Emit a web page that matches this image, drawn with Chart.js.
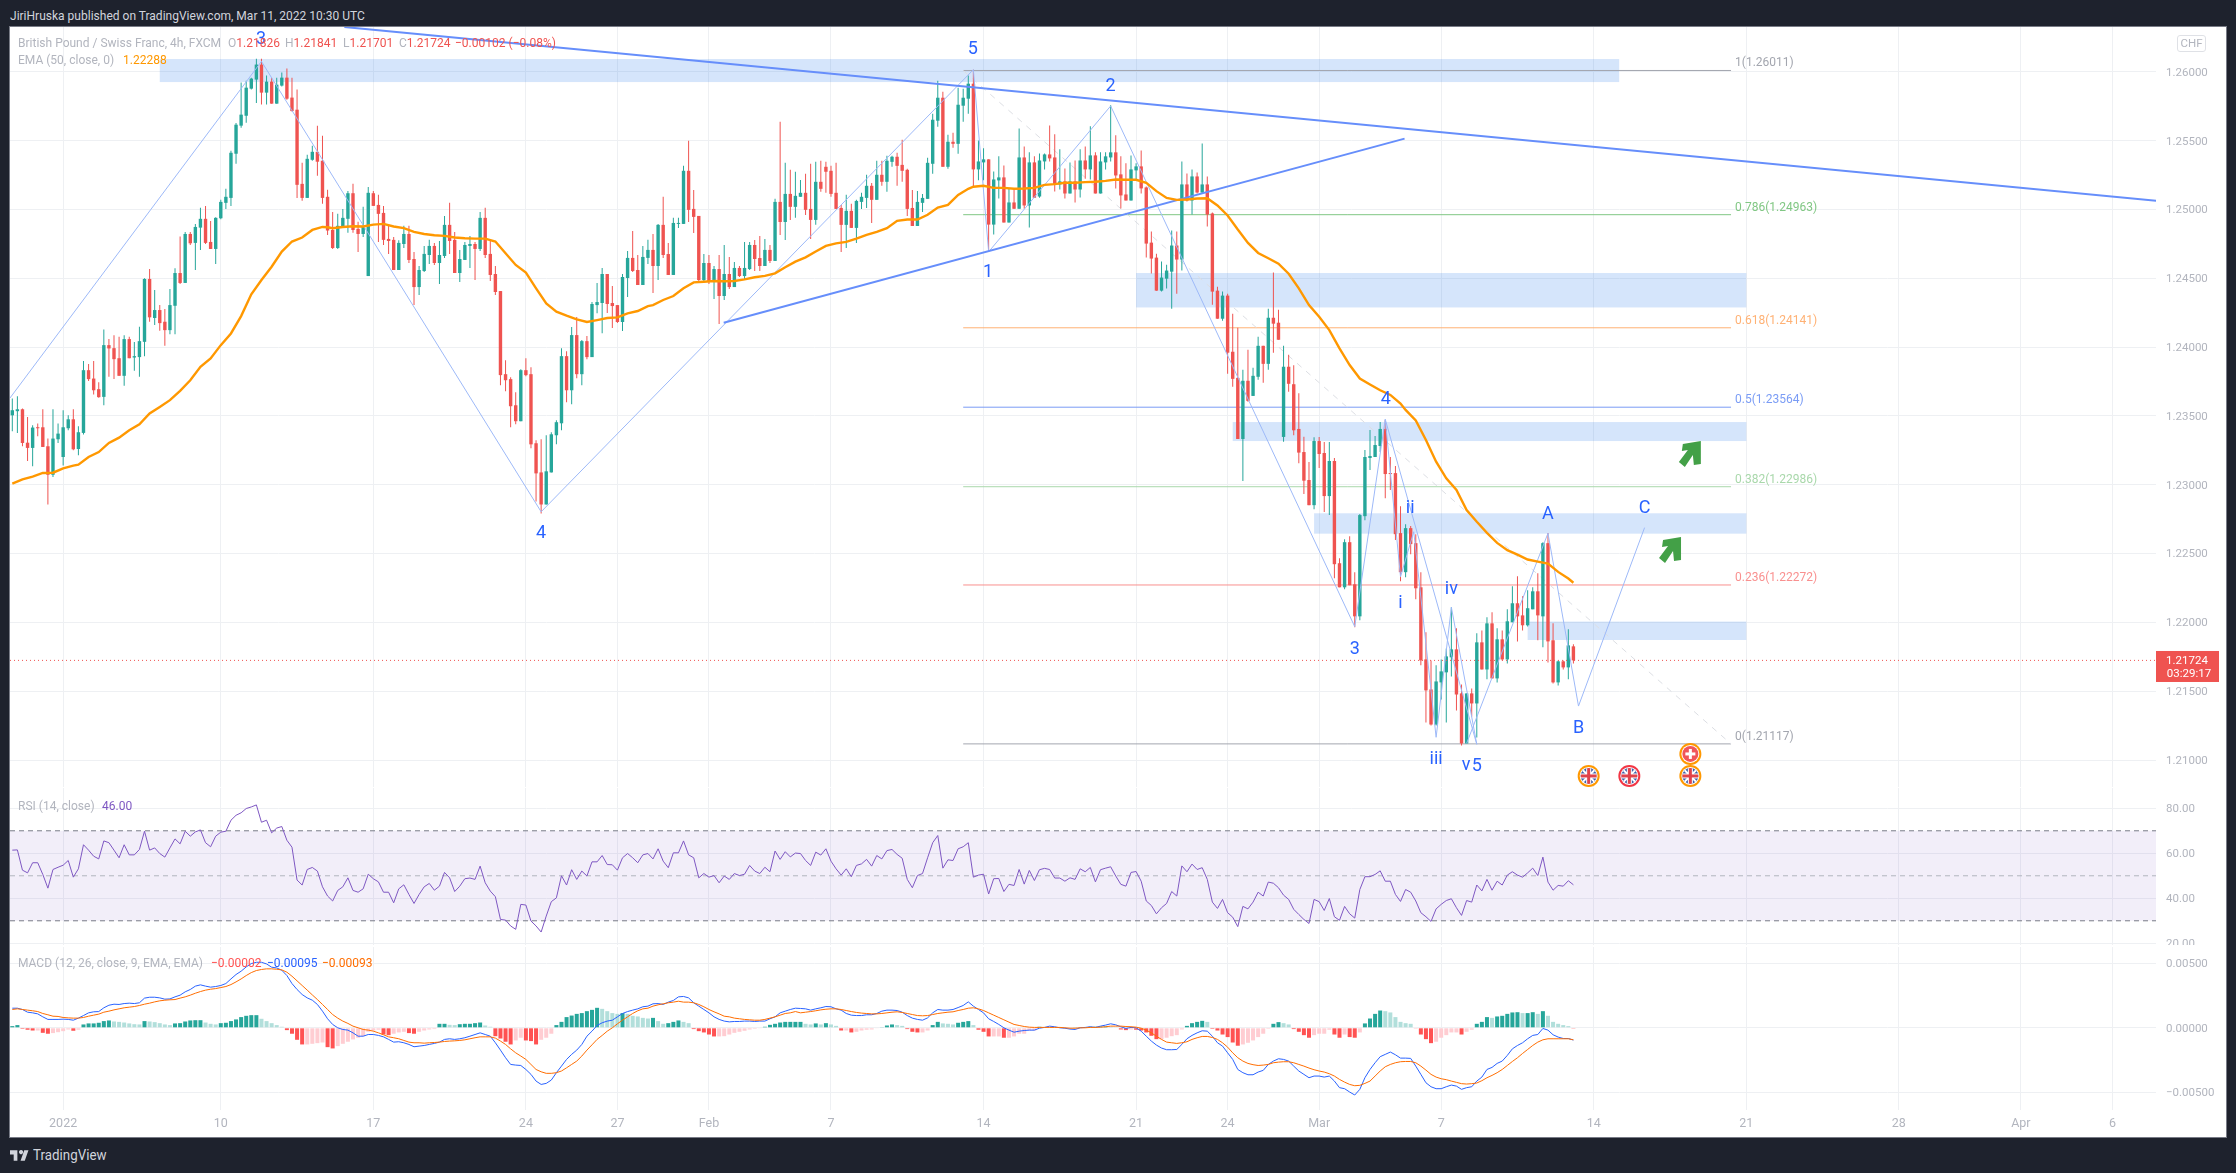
<!DOCTYPE html>
<html>
<head>
<meta charset="utf-8">
<title>GBPCHF</title>
<script src="https://cdn.jsdelivr.net/npm/chart.js@4/dist/chart.umd.js"></script>
<style>
html,body{margin:0;padding:0;background:#1e222d;width:2236px;height:1173px;overflow:hidden}
#panel{position:absolute;left:10px;top:27px;width:2216px;height:1110px;background:#fff;box-shadow:0 0 0 1px #787b86}
canvas{position:absolute;left:10px;display:block}
.t{position:absolute;white-space:pre;font:13.5px Roboto,sans-serif;line-height:16px;color:#b2b5be;transform:scaleX(.89);transform-origin:left center}
</style>
</head>
<body>
<div id="panel"></div>
<canvas id="priceChart" width="2216" height="760" style="top:27px"></canvas>
<canvas id="rsiChart" width="2216" height="157" style="top:788px"></canvas>
<canvas id="macdChart" width="2216" height="190" style="top:947px"></canvas>

<div class="t" style="left:10px;top:7px;color:#d1d4dc">JiriHruska published on TradingView.com, Mar 11, 2022 10:30 UTC</div>
<div class="t" style="left:18px;top:34px">British Pound / Swiss Franc, 4h, FXCM</div>
<div class="t" style="left:228px;top:34px">O<span style="color:#ef5350">1.21826</span></div>
<div class="t" style="left:285px;top:34px">H<span style="color:#ef5350">1.21841</span></div>
<div class="t" style="left:343px;top:34px">L<span style="color:#ef5350">1.21701</span></div>
<div class="t" style="left:399px;top:34px">C<span style="color:#ef5350">1.21724</span></div>
<div class="t" style="left:455px;top:34px;color:#ef5350">−0.00102 (−0.08%)</div>
<div class="t" style="left:18px;top:51px">EMA (50, close, 0)</div>
<div class="t" style="left:123px;top:51px;color:#ff9800">1.22288</div>
<div class="t" style="left:2177px;top:35px;width:27px;height:15px;line-height:15px;text-align:center;border:1px solid #dfe1e6;border-radius:3px;transform:none;font-size:11.5px">CHF</div>
<div class="t" style="left:18px;top:797px">RSI (14, close)</div>
<div class="t" style="left:102px;top:797px;color:#7e57c2">46.00</div>
<div class="t" style="left:18px;top:954px">MACD (12, 26, close, 9, EMA, EMA)</div>
<div class="t" style="left:211px;top:954px;color:#ff5252">−0.00002</div>
<div class="t" style="left:267px;top:954px;color:#2962ff">−0.00095</div>
<div class="t" style="left:322px;top:954px;color:#ff6d00">−0.00093</div>
<svg style="position:absolute;left:10px;top:1149px" width="19" height="13" viewBox="0 0 36 24"><path fill="#d1d4dc" d="M14 2H0v8h7v12h7V2Zm14 20h-8l7-20h8l-7 20Zm-9-13a4 4 0 1 0 0-7 4 4 0 0 0 0 7Z"/></svg>
<div class="t" style="left:33px;top:1147px;color:#d1d4dc;font-size:15px">TradingView</div>

<script>
// candles, 4h bars
const opens = [
1.23505,1.23535,1.23549,1.23306,1.23268,1.23418,1.23418,1.23280,1.23073,1.23331,
1.23202,1.23411,1.23476,1.23260,1.23377,1.23833,1.23772,1.23695,1.23639,1.24015,
1.23993,1.23920,1.23792,1.24059,1.23925,1.23928,1.24039,1.24496,1.24212,1.24270,
1.24185,1.24124,1.24301,1.24539,1.24467,1.24823,1.24758,1.24869,1.24933,1.24765,
1.24714,1.24937,1.25049,1.25085,1.25406,1.25610,1.25682,1.25879,1.25945,1.26054,
1.25850,1.25930,1.25770,1.25901,1.25959,1.25814,1.25726,1.25187,1.25085,1.25362,
1.25420,1.25355,1.25093,
1.24852,1.24721,1.24874,1.24933,1.25119,1.24860,1.24823,1.24517,1.25119,1.25034,
1.24976,1.24787,1.24780,1.24561,1.24750,1.24823,1.24641,1.24437,1.24554,1.24670,
1.24736,1.24612,1.24663,1.24889,1.24780,1.24539,1.24634,1.24736,1.24750,1.24714,
1.24940,1.24678,1.24532,1.24408,1.23804,1.23768,1.23578,1.23462,1.23833,1.23804,
1.23302,1.23090,1.22857,1.23090,1.23360,1.23447,1.23935,1.23687,1.24088,1.23804,
1.24044,1.23928,1.24306,1.24321,1.24532,1.24321,1.24306,1.24183,1.24503,1.24649,
1.24561,1.24452,1.24649,
1.24707,1.24590,1.24889,1.24677,1.24525,1.24896,1.24896,1.25282,1.25005,1.24954,
1.24488,1.24612,1.24474,1.24568,1.24372,1.24532,1.24437,1.24576,1.24517,1.24568,
1.24743,1.24648,1.24590,1.24707,1.24627,1.25056,1.24910,1.25114,1.25020,1.25093,
1.25122,1.25005,1.24925,1.25202,1.25311,1.25282,1.25122,1.25012,1.24889,1.24991,
1.24867,1.25056,1.25085,1.25173,1.25071,1.25253,1.25202,1.25347,1.25384,1.25325,
1.25289,1.25012,1.24881,1.25049,1.25078,1.25333,1.25646,1.25813,1.25311,1.25493,
1.25478,1.25755,1.25806,1.25915,
1.25292,1.25343,1.25365,1.24891,1.25212,1.25234,1.24906,1.25052,1.25006,1.25379,
1.25030,1.25343,1.25095,1.25350,1.25401,1.25379,1.25183,1.25205,1.25117,1.25205,
1.25146,1.25357,1.25292,1.25394,1.25117,1.25343,1.25379,1.25416,1.25256,1.25110,
1.25066,1.25285,1.25314,1.25161,1.24760,1.24651,1.24411,1.24498,1.24549,1.24739,
1.24637,1.25183,1.25066,1.25241,1.25124,1.25183,1.24972,1.24411,1.24207,1.24375,
1.23967,1.23777,1.23333,1.23756,1.23646,1.23785,1.24010,1.23879,1.24214,1.24178,
1.23348,1.23858,1.23731,1.23406,1.23238,1.23035,1.22852,1.23318,1.23231,1.22918,
1.23173,1.22430,1.22255,1.22583,1.22277,1.22044,1.22772,1.23195,1.23202,1.23282,
1.23406,1.23085,1.23085,1.22649,1.22365,1.22685,1.22576,1.22255,1.21731,1.21513,
1.21258,1.21564,1.21637,1.21746,1.21804,1.21484,1.21120,1.21484,1.21411,1.21855,
1.21658,1.21993,1.21593,1.21877,1.21731,1.22001,1.22139,1.22051,1.21979,1.22095,
1.22226,1.22044,1.22576,1.21870,1.21564,1.21717,1.21673,1.21826];
const highs = [
1.23627,1.23644,1.23554,1.23493,1.23433,1.23445,1.23549,1.23336,1.23549,1.23445,
1.23542,1.23505,1.23549,1.23425,1.23899,1.23877,1.23899,1.23746,1.24129,1.24059,
1.24086,1.24076,1.24086,1.24076,1.24037,1.24149,1.24501,1.24568,1.24416,1.24306,
1.24277,1.24423,1.24573,1.24804,1.24838,1.24838,1.24896,1.25013,1.25027,1.24918,
1.24945,1.25071,1.25151,1.25428,1.25629,1.25923,1.25937,1.25959,1.26097,1.26097,
1.25974,1.25959,1.25959,1.25996,1.26025,1.25959,1.25872,1.25340,1.25398,1.25464,
1.25610,1.25537,1.25144,
1.24983,1.24969,1.25005,1.25136,1.25187,1.24911,1.25020,1.25165,1.25136,1.25107,
1.25027,1.24889,1.24801,1.24777,1.24882,1.24882,1.24692,1.24590,1.24736,1.24780,
1.24758,1.24772,1.24954,1.25049,1.24838,1.24707,1.24765,1.24809,1.24765,1.24983,
1.25013,1.24787,1.24590,1.24408,1.23906,1.23782,1.23673,1.23840,1.23920,1.23855,
1.23323,1.23331,1.23360,1.23382,1.23469,1.23993,1.23971,1.24146,1.24219,1.24052,
1.24081,1.24328,1.24467,1.24576,1.24532,1.24445,1.24306,1.24532,1.24700,1.24845,
1.24670,1.24736,1.24780,
1.24823,1.24896,1.25093,1.24758,1.24940,1.24940,1.25318,1.25500,1.25143,1.24954,
1.24677,1.24670,1.24590,1.24670,1.24743,1.24656,1.24619,1.24590,1.24765,1.24765,
1.24779,1.24809,1.24787,1.24743,1.25078,1.25639,1.25340,1.25289,1.25275,1.25216,
1.25260,1.25333,1.25347,1.25355,1.25347,1.25318,1.25340,1.25034,1.25107,1.25042,
1.25071,1.25122,1.25253,1.25194,1.25355,1.25355,1.25391,1.25391,1.25413,1.25508,
1.25296,1.25143,1.25136,1.25114,1.25376,1.25697,1.25937,1.25857,1.25544,1.25558,
1.25886,1.25879,1.25974,1.26017,
1.25503,1.25445,1.25365,1.25277,1.25387,1.25321,1.25154,1.25154,1.25590,1.25459,
1.25416,1.25387,1.25408,1.25408,1.25612,1.25547,1.25438,1.25299,1.25343,1.25357,
1.25438,1.25459,1.25605,1.25416,1.25416,1.25416,1.25758,1.25540,1.25387,1.25336,
1.25394,1.25336,1.25430,1.25168,1.24841,1.24680,1.24622,1.24600,1.24848,1.24841,
1.25350,1.25263,1.25292,1.25270,1.25481,1.25241,1.24979,1.24440,1.24404,1.24389,
1.24243,1.24142,1.23836,1.23981,1.23850,1.24076,1.24010,1.24280,1.24542,1.24273,
1.24010,1.23945,1.23869,1.23666,1.23350,1.23166,1.23345,1.23348,1.23311,1.23311,
1.23195,1.22467,1.22605,1.22627,1.22365,1.22787,1.23253,1.23399,1.23355,1.23457,
1.23471,1.23202,1.23136,1.22845,1.22714,1.22700,1.22641,1.22365,1.21928,1.21724,
1.21688,1.21731,1.21811,1.22110,1.21957,1.21549,1.21484,1.21520,1.21921,1.21942,
1.22037,1.22073,1.21957,1.21942,1.22095,1.22263,1.22336,1.22190,1.22234,1.22255,
1.22357,1.22583,1.22649,1.21993,1.21724,1.21724,1.21950,1.21841];
const lows = [
1.23389,1.23377,1.23280,1.23173,1.23134,1.23353,1.23275,1.22857,1.23056,1.23304,
1.23141,1.23396,1.23251,1.23214,1.23365,1.23755,1.23656,1.23632,1.23578,1.23785,
1.23768,1.23792,1.23719,1.23920,1.23828,1.23785,1.23935,1.24185,1.24161,1.24119,
1.24010,1.24095,1.24095,1.24459,1.24467,1.24743,1.24561,1.24707,1.24750,1.24714,
1.24605,1.24930,1.25005,1.25027,1.25333,1.25595,1.25631,1.25872,1.25775,1.25763,
1.25763,1.25770,1.25770,1.25894,1.25799,1.25712,1.25085,1.25064,1.25085,1.25355,
1.25246,1.25042,1.24816,
1.24714,1.24714,1.24874,1.24831,1.24831,1.24692,1.24801,1.24517,1.25027,1.24765,
1.24743,1.24678,1.24561,1.24561,1.24721,1.24612,1.24306,1.24379,1.24547,1.24605,
1.24598,1.24459,1.24649,1.24678,1.24539,1.24474,1.24634,1.24576,1.24488,1.24700,
1.24649,1.24481,1.24379,1.23724,1.23680,1.23418,1.23440,1.23462,1.23789,1.23265,
1.22879,1.22792,1.22857,1.23090,1.23294,1.23396,1.23600,1.23586,1.23775,1.23724,
1.23913,1.23928,1.24246,1.24102,1.24248,1.24139,1.24175,1.24117,1.24365,1.24547,
1.24452,1.24452,1.24605,
1.24394,1.24488,1.24648,1.24525,1.24525,1.24867,1.24896,1.24910,1.24830,1.24481,
1.24481,1.24459,1.24350,1.24168,1.24343,1.24423,1.24437,1.24510,1.24488,1.24561,
1.24554,1.24554,1.24590,1.24612,1.24627,1.24816,1.24779,1.24925,1.24940,1.25093,
1.24961,1.24787,1.24889,1.25129,1.25122,1.25093,1.25005,1.24692,1.24721,1.24867,
1.24758,1.25005,1.25012,1.24903,1.25071,1.25173,1.25129,1.25311,1.25173,1.25202,
1.24954,1.24881,1.24881,1.24983,1.25078,1.25260,1.25602,1.25311,1.25296,1.25449,
1.25406,1.25639,1.25697,1.25170,
1.25214,1.25214,1.24702,1.24819,1.25081,1.24906,1.24906,1.25006,1.25006,1.25006,
1.24870,1.25086,1.25086,1.25292,1.25350,1.25132,1.25146,1.25081,1.25117,1.25052,
1.25088,1.25224,1.25219,1.25117,1.25117,1.25292,1.25350,1.25154,1.25008,1.25066,
1.25066,1.25212,1.25117,1.24651,1.24535,1.24411,1.24404,1.24426,1.24280,1.24389,
1.24557,1.25059,1.24964,1.25117,1.25117,1.24877,1.24309,1.24207,1.24193,1.23807,
1.23712,1.23333,1.23028,1.23603,1.23646,1.23763,1.23741,1.23836,1.23960,1.24054,
1.23312,1.23676,1.23360,1.23156,1.22933,1.22852,1.22823,1.23122,1.22802,1.22780,
1.22321,1.22255,1.22241,1.22270,1.21964,1.22015,1.22743,1.23107,1.23202,1.23238,
1.22903,1.22962,1.22598,1.22299,1.22328,1.22496,1.22168,1.21688,1.21273,1.21251,
1.21251,1.21440,1.21273,1.21607,1.21360,1.21105,1.21120,1.21316,1.21163,1.21658,
1.21586,1.21593,1.21564,1.21724,1.21702,1.22001,1.21862,1.21942,1.21971,1.22095,
1.21870,1.21819,1.21709,1.21556,1.21542,1.21658,1.21586,1.21701];
const closes = [
1.23542,1.23549,1.23304,1.23268,1.23416,1.23411,1.23275,1.23073,1.23336,1.23372,
1.23418,1.23476,1.23258,1.23382,1.23833,1.23768,1.23687,1.23637,1.24015,1.23991,
1.23913,1.23792,1.24059,1.23920,1.23935,1.24044,1.24496,1.24217,1.24270,1.24175,
1.24124,1.24306,1.24539,1.24467,1.24823,1.24755,1.24874,1.24933,1.24758,1.24714,
1.24940,1.25056,1.25093,1.25413,1.25617,1.25690,1.25886,1.25952,1.26054,1.25850,
1.25930,1.25770,1.25908,1.25959,1.25806,1.25716,1.25180,1.25085,1.25369,1.25420,
1.25348,1.25085,1.24848,
1.24721,1.24882,1.24940,1.25119,1.24852,1.24823,1.24874,1.25122,1.25027,1.24969,
1.24780,1.24772,1.24561,1.24758,1.24823,1.24634,1.24437,1.24561,1.24678,1.24736,
1.24612,1.24670,1.24889,1.24772,1.24539,1.24641,1.24743,1.24750,1.24714,1.24940,
1.24670,1.24525,1.24401,1.23797,1.23760,1.23571,1.23462,1.23833,1.23797,1.23294,
1.23083,1.22857,1.23098,1.23367,1.23455,1.23935,1.23687,1.24088,1.23804,1.24044,
1.23928,1.24314,1.24328,1.24532,1.24314,1.24299,1.24183,1.24510,1.24649,1.24554,
1.24452,1.24656,1.24707,
1.24590,1.24889,1.24670,1.24525,1.24903,1.24903,1.25282,1.24998,1.24947,1.24488,
1.24612,1.24474,1.24568,1.24372,1.24532,1.24437,1.24576,1.24517,1.24576,1.24743,
1.24641,1.24590,1.24707,1.24627,1.25056,1.24910,1.25114,1.25020,1.25100,1.25122,
1.24998,1.24925,1.25202,1.25151,1.25275,1.25114,1.25005,1.24889,1.24991,1.24867,
1.25063,1.25093,1.25173,1.25071,1.25253,1.25202,1.25355,1.25384,1.25318,1.25282,
1.25005,1.24881,1.25056,1.25085,1.25340,1.25653,1.25813,1.25311,1.25493,1.25478,
1.25762,1.25813,1.25915,1.25292,
1.25350,1.25365,1.24891,1.25219,1.25234,1.24906,1.25052,1.25006,1.25379,1.25030,
1.25343,1.25086,1.25357,1.25401,1.25372,1.25183,1.25205,1.25117,1.25205,1.25146,
1.25357,1.25292,1.25394,1.25117,1.25350,1.25387,1.25416,1.25248,1.25103,1.25066,
1.25292,1.25314,1.25154,1.24753,1.24644,1.24411,1.24506,1.24557,1.24739,1.24637,
1.25183,1.25066,1.25241,1.25124,1.25183,1.24964,1.24404,1.24207,1.24375,1.23960,
1.23770,1.23333,1.23756,1.23610,1.23792,1.24010,1.23879,1.24214,1.24171,1.24054,
1.23858,1.23734,1.23396,1.23234,1.23030,1.22852,1.23318,1.23224,1.22918,1.23173,
1.22423,1.22255,1.22583,1.22270,1.22044,1.22780,1.23202,1.23209,1.23289,1.23406,
1.23078,1.23078,1.22641,1.22365,1.22685,1.22569,1.22248,1.21724,1.21506,1.21258,
1.21571,1.21644,1.21753,1.21804,1.21476,1.21120,1.21484,1.21411,1.21855,1.21658,
1.21993,1.21593,1.21877,1.21731,1.22008,1.22139,1.22044,1.21979,1.22103,1.22226,
1.22051,1.22576,1.21862,1.21564,1.21717,1.21673,1.21833,1.21724];

// EMA 50, read at these bars
const emaBars = [1,3,5,7,9,11,13,14,16,18,20,22,24,26,28,30,32,34,36,38,40,42,44,46,48,50,52,54,56,58,60,62,63,64,66,68,70,72,74,76,78,80,82,84,86,88,90,92,94,96,98,100,102,104,106,108,110,112,114,116,118,120,122,124,126,127,129,131,133,135,137,139,141,143,145,147,149,151,153,155,157,159,161,163,165,167,169,171,173,175,177,179,181,183,185,187,189,190,192,194,196,198,200,202,204,206,208,210,212,214,216,218,220,222,224,226,228,230,232,234,236,238,240,242,244,246,248,250,252,254,256,258,260,262,264,266,268,270,272,274,275,277,279,281,283,285,287,289,291,293,295,297,299,301,303,305,307,308];
const emaValues = [1.23008,1.23040,1.23059,1.23086,1.23088,1.23120,1.23139,1.23146,1.23202,1.23238,1.23304,1.23343,1.23396,1.23440,1.23518,1.23566,1.23615,1.23683,1.23760,1.23857,1.23918,1.24015,1.24100,1.24226,1.24384,1.24488,1.24585,1.24695,1.24768,1.24797,1.24852,1.24874,1.24872,1.24865,1.24874,1.24879,1.24877,1.24891,1.24896,1.24877,1.24865,1.24838,1.24823,1.24814,1.24809,1.24797,1.24792,1.24789,1.24789,1.24768,1.24683,1.24598,1.24542,1.24428,1.24318,1.24258,1.24229,1.24202,1.24183,1.24197,1.24212,1.24217,1.24246,1.24263,1.24299,1.24306,1.24343,1.24372,1.24428,1.24471,1.24476,1.24481,1.24479,1.24481,1.24493,1.24508,1.24518,1.24537,1.24581,1.24622,1.24653,1.24695,1.24736,1.24755,1.24765,1.24789,1.24816,1.24838,1.24865,1.24918,1.24928,1.24928,1.24962,1.25015,1.25034,1.25107,1.25151,1.25166,1.25173,1.25158,1.25158,1.25151,1.25153,1.25158,1.25180,1.25185,1.25195,1.25195,1.25200,1.25202,1.25209,1.25219,1.25217,1.25217,1.25195,1.25134,1.25085,1.25071,1.25073,1.25081,1.25083,1.25030,1.24957,1.24855,1.24758,1.24685,1.24646,1.24607,1.24534,1.24428,1.24306,1.24221,1.24124,1.23991,1.23870,1.23772,1.23729,1.23687,1.23653,1.23590,1.23544,1.23467,1.23326,1.23168,1.23047,1.22962,1.22816,1.22731,1.22651,1.22578,1.22525,1.22493,1.22457,1.22442,1.22428,1.22367,1.22319,1.22288];

const rsiValues = [
61.4,61.5,52.5,51.3,55.8,55.8,50.6,44.5,52.8,53.8,54.7,56.8,49.4,53.1,63.8,61.4,58.7,57.5,65.5,64.7,
61.4,58.0,63.8,59.3,59.3,61.7,69.8,61.4,62.4,59.9,58.3,62.4,66.4,64.2,69.8,67.6,69.5,70.4,64.7,62.9,
67.6,69.4,69.8,74.7,76.9,78.0,79.9,80.6,81.5,73.8,74.7,69.1,71.2,71.9,65.8,62.7,48.1,45.9,52.8,53.7,
52.1,45.1,41.0,38.8,43.5,45.1,49.1,43.5,42.7,44.2,50.7,48.7,47.3,42.7,42.7,38.0,44.2,46.0,41.7,37.7,
41.7,45.1,46.6,43.6,45.4,51.5,49.1,43.0,45.4,48.7,49.0,48.4,54.3,46.9,43.2,40.7,30.6,30.3,27.7,26.2,
37.3,37.0,29.9,27.7,25.0,32.1,38.5,40.2,50.0,45.9,52.7,48.4,52.1,49.9,56.2,56.2,59.0,55.0,54.9,52.5,
58.0,59.9,58.0,55.8,59.3,59.9,57.5,62.0,56.5,53.6,60.2,60.2,65.5,59.3,58.0,49.1,51.0,49.4,50.1,46.9,
49.9,48.4,51.0,50.1,50.7,54.6,52.1,51.0,53.8,51.8,61.0,57.3,60.7,58.4,60.1,
59.9,56.8,54.6,60.5,59.2,62.0,56.5,53.1,50.3,53.1,49.6,54.6,55.3,57.3,54.3,59.0,57.5,61.2,61.7,59.5,
57.8,48.4,44.7,50.1,51.0,58.0,64.7,67.9,53.4,57.1,56.8,62.0,62.9,64.7,49.4,50.3,50.7,41.9,48.7,48.8,
43.0,46.2,45.7,52.8,46.3,52.4,47.9,52.7,53.3,52.8,49.0,49.0,47.6,49.1,48.4,53.1,51.8,53.7,47.3,52.7,
53.4,54.0,49.9,46.2,45.4,51.5,51.9,47.6,38.8,36.8,33.1,35.8,37.7,43.0,41.0,54.4,51.8,55.2,52.8,53.6,
48.4,38.3,35.5,39.5,33.6,31.6,27.4,36.4,35.3,38.3,42.7,41.0,47.2,46.7,44.7,41.4,39.5,35.1,32.8,30.6,
28.8,39.5,38.5,34.6,39.9,31.8,30.2,36.4,33.1,31.2,43.9,49.6,49.6,50.6,52.2,47.6,47.6,41.7,38.6,43.9,
42.7,38.8,33.6,31.8,29.7,35.3,37.3,39.0,39.8,35.8,32.4,39.0,38.3,45.9,43.3,48.4,43.6,47.6,45.9,50.3,
51.8,50.3,49.4,51.3,53.4,50.1,58.3,47.2,43.6,45.7,45.4,47.8,46.0];

// MACD values in 1/100000
const macdLine = [
152,152,142,121,116,108,85,65,65,65,67,65,59,75,95,116,124,126,155,175,183,181,188,191,188,194,230,237,237,232,
222,224,240,253,279,297,323,333,323,315,320,328,343,379,413,439,472,498,508,508,495,470,464,446,405,343,297,258,232,214,
181,129,70,26,0,-13,-18,-39,-65,-65,-52,-52,-59,-70,-90,-111,-108,-116,-129,-147,-142,-137,-129,-121,-111,-90,-85,-90,-85,-77,
-65,-52,-39,-52,-65,-116,-173,-232,-284,-289,-292,-323,-361,-413,-439,-431,-405,-348,-297,-245,-206,-173,-129,-65,-26,18,39,52,59,85,
111,126,137,147,163,168,186,188,181,199,212,240,243,232,194,168,142,116,85,65,52,46,49,49,52,52,49,52,52,70,85,116,129,142,152,
150,147,137,147,155,165,163,147,137,111,98,95,95,101,101,111,129,137,137,134,121,95,75,65,59,77,116,142,137,137,
142,157,173,201,168,142,116,70,49,26,0,-18,-34,-26,-21,-18,-18,-3,3,13,8,0,-3,-10,-13,0,3,8,3,13,
21,31,23,8,-5,3,0,-26,-65,-103,-134,-157,-170,-170,-168,-129,-85,-59,-39,-23,-26,-65,-116,-142,-194,-245,-323,-348,-364,-364,
-343,-330,-284,-258,-240,-245,-258,-297,-335,-361,-387,-374,-374,-382,-374,-413,-464,-472,-498,-521,-477,-387,-323,-271,-224,-206,-188,-209,-235,-235,
-237,-297,-361,-426,-457,-472,-472,-457,-444,-452,-477,-464,-457,-413,-382,-323,-307,-276,-258,-214,-163,-137,-116,-85,-59,-52,-5,-18,-54,-72,-83,-83,-95];
const signalLine = [
142,147,142,137,132,126,111,101,90,88,80,77,75,75,80,90,98,106,121,129,139,147,155,160,165,173,183,191,201,209,
214,217,219,230,240,253,268,281,292,299,304,312,320,335,356,379,405,428,444,452,457,457,454,449,431,400,364,328,292,255,
219,181,142,103,75,52,34,13,0,-13,-18,-26,-39,-54,-70,-77,-85,-98,-111,-116,-116,-119,-116,-114,-111,-106,-103,-101,-98,-93,
-85,-77,-70,-70,-70,-80,-103,-129,-163,-194,-219,-245,-284,-323,-341,-353,-353,-348,-335,-310,-284,-258,-219,-173,-132,-90,-59,-26,0,31,
59,85,111,132,147,152,168,178,186,194,199,206,199,199,194,181,163,142,124,108,90,85,75,70,65,62,59,59,65,75,85,98,111,116,126,
116,121,126,132,139,144,147,147,142,134,126,119,114,111,108,108,111,116,121,124,119,111,103,95,93,95,103,111,116,121,
124,134,142,152,155,147,134,116,98,80,62,44,26,18,10,5,3,3,3,3,3,3,0,-3,-3,0,0,3,3,5,
8,13,13,13,10,8,5,-3,-18,-39,-65,-90,-111,-116,-121,-116,-108,-90,-77,-67,-67,-75,-90,-116,-150,-194,-232,-258,-276,-286,
-292,-289,-284,-271,-266,-263,-263,-271,-284,-297,-312,-325,-335,-343,-356,-374,-400,-421,-439,-449,-446,-431,-413,-374,-335,-302,-284,-271,-263,-261,
-261,-271,-297,-328,-361,-382,-395,-402,-413,-423,-433,-436,-433,-428,-410,-387,-369,-348,-323,-292,-261,-232,-199,-168,-137,-111,-93,-85,-85,-85,-85,-85,-93];
const macdHist = [
13,21,-8,-15,-21,-21,-39,-46,-41,-34,-26,-13,-23,-15,26,34,34,39,52,57,
49,46,41,34,28,26,52,49,44,36,26,21,34,36,49,57,59,59,41,31,
26,36,39,52,65,83,93,98,98,70,52,36,21,8,-18,-46,-93,-129,-129,-124,
-119,-114,-150,-160,-142,-124,-108,-90,-77,-65,-31,-21,-15,-52,-57,-46,-36,-31,-41,-46,
-31,-21,-13,-10,31,31,23,21,28,31,31,36,41,18,8,-65,-83,-108,-129,-98,
-77,-98,-103,-129,-93,-77,-46,21,46,83,95,108,114,129,139,155,147,129,114,108,
114,108,93,88,77,72,77,52,31,36,46,57,46,36,-10,-26,-36,-52,-67,-67,
-65,-52,-39,-31,-23,-13,-8,-5,8,23,31,41,46,46,46,
46,31,26,34,26,36,26,15,-21,-21,-36,-31,-21,-15,-13,-3,5,18,26,
21,15,-10,-31,-36,-36,-21,21,46,34,31,26,39,46,52,21,-15,-31,-67,-67,
-67,-77,-77,-67,-46,-46,-21,-21,8,5,5,3,3,-3,-3,3,5,5,8,8,
10,10,8,3,-13,-18,-13,-15,-21,-36,-62,-88,-88,-77,-65,-57,-13,15,36,46,
54,46,-8,-21,-52,-72,-114,-139,-129,-116,-98,-72,-46,-8,31,44,36,26,-10,-31,
-57,-77,-57,-46,-46,-15,-52,-77,-52,-72,-77,-36,34,72,108,134,129,119,83,46,
36,31,-5,-52,-88,-119,-108,-77,-57,-36,-36,-52,-31,-15,31,46,83,77,88,93,
108,119,121,114,114,121,108,129,93,46,31,21,13,-2];

// axis ticks
const priceTicks = [1.26,1.255,1.25,1.245,1.24,1.235,1.23,1.225,1.22,1.215,1.21];
const rsiTicks = [80,60,40,20];
const macdTicks = [0.005,0,-0.005];
const timeBars = [11,42,72,102,120,138,162,192,222,240,258,282,312,342,372,396,414];
const timeLabels = ["2022","10","17","24","27","Feb","7","14","21","24","Mar","7","14","21","28","Apr","6"];

// fib levels
const fibLevels = [1.26011,1.24963,1.24141,1.23564,1.22986,1.22272,1.21117];
const fibNames = ["1","0.786","0.618","0.5","0.382","0.236","0"];
const fibColors = ["#a3a6af","#81c784","#ffb174","#7a9cf5","#a9d8ab","#f9908f","#a3a6af"];
const lastClose = 1.21724;

// drawn lines, [bar, price]
const trendDown = [[66.3,1.26327],[422.6,1.25065]];
const trendUp = [[140.9,1.24178],[274.8,1.25516]];
const mainWave = [[0.55,1.23631],[50,1.26077],[105,1.22804],[190,1.26017],[193,1.24693],[217,1.25753],[265,1.21969],[271,1.23476],[289,1.21114]];
const subWave = [[271,1.23476],[274,1.22332],[276.6,1.22659],[281,1.21165],[284,1.2211],[289,1.21114]];
const abcWave = [[287,1.21121],[303,1.22648],[309,1.21392],[322,1.22689]];
const fibDiagonal = [[188,1.26011],[339,1.21117]];

// blue zones: from bar, to bar, top, bottom
const zones = [[30,317,1.26094,1.25927],[222,342,1.24539,1.24289],[241,342,1.23456,1.23318],[257,342,1.22793,1.22645],[299,342,1.22006,1.21872]];
// wave labels: text, bar, price
const waveLabels = [["3",49.9,1.26251],["4",105,1.22657],["5",189.9,1.26178],["1",192.9,1.24561],["2",217,1.25906],["4",271.1,1.23631],["3",265,1.21816],["ii",275.9,1.22839],["i",274,1.22151],["iv",284,1.22252],["iii",281,1.2102],["v",286.9,1.20971],["5",289,1.20964],["A",303,1.228],["B",309,1.21242],["C",322,1.22841]];
const arrowSpots = [[330.9,1.23224],[327,1.22526]];
const flagSpots = [[311,1.20884,"#ff9800","uk"],[319,1.20884,"#f23645","uk"],[331,1.20884,"#ff9800","uk"],[331,1.21044,"#ff9800","ch"]];

const FONT = "Roboto, sans-serif";
const GRID = "#eef0f3";
const TICK = "#b2b5be";
const xMin = 0.548, xMax = 422.57;
const AXIS_W = 70;

function pts(list) {
    return list.map(p => ({ x: p[0], y: p[1] }));
}
function lineSet(list, color, width, order, dash) {
    return { type: "line", data: pts(list), borderColor: color, borderWidth: width, pointRadius: 0, tension: 0, order: order, borderDash: dash || [] };
}
function xScale(showLabels) {
    return {
        type: "linear", min: xMin, max: xMax, offset: false,
        grid: { color: GRID, offset: false, drawTicks: false },
        border: { display: false },
        afterBuildTicks: s => { s.ticks = timeBars.map(v => ({ value: v })); },
        ticks: {
            display: showLabels, autoSkip: false, maxRotation: 0, padding: 6, color: TICK,
            font: { family: FONT, size: 12.5 },
            callback: v => timeLabels[timeBars.indexOf(v)]
        },
        afterFit: s => { s.height = showLabels ? 27 : 0; s.paddingLeft = s.paddingRight = 0; }
    };
}
function yScale(min, max, list, digits) {
    return {
        position: "right", min: min, max: max,
        grid: { color: GRID, drawTicks: false },
        border: { display: false },
        afterBuildTicks: s => { s.ticks = list.map(v => ({ value: v })); },
        ticks: {
            padding: 10, color: TICK, font: { family: FONT, size: 11.5 }, autoSkip: false, labelOffset: 1,
            callback: v => (v < 0 ? "−" : "") + Math.abs(v).toFixed(digits)
        },
        afterFit: s => { s.width = AXIS_W; s.paddingTop = s.paddingBottom = 0; }
    };
}
const baseOptions = {
    responsive: false, animation: false, events: [],
    layout: { padding: 0 },
    plugins: { legend: { display: false }, tooltip: { enabled: false } }
};

function drawFlag(ctx, x, y, ring, kind) {
    ctx.save();
    ctx.beginPath(); ctx.arc(x, y, 11, 0, Math.PI * 2); ctx.fillStyle = ring; ctx.fill();
    ctx.beginPath(); ctx.arc(x, y, 9, 0, Math.PI * 2); ctx.fillStyle = "#fff"; ctx.fill();
    ctx.beginPath(); ctx.arc(x, y, 8, 0, Math.PI * 2); ctx.clip();
    if (kind === "ch") {
        ctx.fillStyle = "#f0565a"; ctx.fillRect(x - 9, y - 9, 18, 18);
        ctx.fillStyle = "#fff"; ctx.fillRect(x - 5, y - 1.5, 10, 3); ctx.fillRect(x - 1.5, y - 5, 3, 10);
    } else {
        ctx.fillStyle = "#3f5fa8"; ctx.fillRect(x - 9, y - 9, 18, 18);
        ctx.strokeStyle = "#fff"; ctx.lineWidth = 2;
        ctx.beginPath(); ctx.moveTo(x - 9, y - 9); ctx.lineTo(x + 9, y + 9); ctx.moveTo(x + 9, y - 9); ctx.lineTo(x - 9, y + 9); ctx.stroke();
        ctx.fillStyle = "#fff"; ctx.fillRect(x - 9, y - 2.5, 18, 5); ctx.fillRect(x - 2.5, y - 9, 5, 18);
        ctx.fillStyle = "#e0434b"; ctx.fillRect(x - 9, y - 1.5, 18, 3); ctx.fillRect(x - 1.5, y - 9, 3, 18);
    }
    ctx.restore();
}
function drawArrow(ctx, x, y) {
    ctx.save();
    ctx.translate(x, y);
    ctx.fillStyle = "#43a047";
    ctx.beginPath();
    ctx.moveTo(-7, -10); ctx.lineTo(11, -13); ctx.lineTo(11, 10); ctx.lineTo(4, 11); ctx.lineTo(3, 1);
    ctx.lineTo(-5, 13); ctx.lineTo(-11, 8); ctx.lineTo(-2, -4); ctx.lineTo(-8, -3);
    ctx.closePath(); ctx.fill();
    ctx.restore();
}

const pricePlugin = {
    id: "priceExtras",
    beforeDatasetsDraw(chart) {
        const { ctx, scales: { x, y } } = chart;
        ctx.save();
        ctx.fillStyle = "rgba(33,115,236,0.19)";
        zones.forEach(z => {
            const x0 = x.getPixelForValue(z[0]), x1 = x.getPixelForValue(z[1]);
            const y0 = y.getPixelForValue(z[2]), y1 = y.getPixelForValue(z[3]);
            ctx.fillRect(x0, y0, x1 - x0, y1 - y0);
        });
        ctx.restore();
    },
    afterDraw(chart) {
        const { ctx, scales: { x, y } } = chart;
        ctx.save();
        ctx.textBaseline = "middle";
        // fib labels
        ctx.font = "12px " + FONT;
        fibLevels.forEach((lv, i) => {
            ctx.fillStyle = fibColors[i];
            ctx.fillText(fibNames[i] + "(" + lv.toFixed(5) + ")", x.getPixelForValue(339.8), y.getPixelForValue(lv) - 7);
        });
        // wave labels
        ctx.font = "18px " + FONT;
        ctx.fillStyle = "#2962ff";
        ctx.textAlign = "center";
        waveLabels.forEach(l => ctx.fillText(l[0], x.getPixelForValue(l[1]), y.getPixelForValue(l[2]) + 2));
        arrowSpots.forEach(a => drawArrow(ctx, x.getPixelForValue(a[0]), y.getPixelForValue(a[1])));
        flagSpots.forEach(f => drawFlag(ctx, x.getPixelForValue(f[0]), y.getPixelForValue(f[1]), f[2], f[3]));
        // last price box
        const py = y.getPixelForValue(lastClose);
        ctx.fillStyle = "#ef5350";
        ctx.fillRect(x.right, py - 9.4, 63, 31);
        ctx.fillStyle = "#fff";
        ctx.font = "11.5px " + FONT;
        ctx.fillText(lastClose.toFixed(5), x.right + 31, py + 1);
        ctx.fillText("03:29:17", x.right + 33, py + 14);
        ctx.restore();
    }
};

// price pane
const wickData = lows.map((l, i) => ({ x: i + 1, y: [l, highs[i]] }));
const bodyData = opens.map((o, i) => ({ x: i + 1, y: [o, closes[i]] }));
const candleColor = ctx => closes[ctx.dataIndex] >= opens[ctx.dataIndex] ? "#26a69a" : "#ef5350";
const fibSets = fibLevels.map((lv, i) => lineSet([[188, lv], [339, lv]], fibColors[i], 1, 7));

new Chart(document.getElementById("priceChart"), {
    type: "bar",
    data: {
        datasets: [
            { label: "wicks", data: wickData, backgroundColor: candleColor, barThickness: 1, grouped: false, inflateAmount: 0, order: 6 },
            { label: "bodies", data: bodyData, backgroundColor: candleColor, barThickness: 3.4, minBarLength: 1, grouped: false, inflateAmount: 0, order: 5 },
            lineSet(emaBars.map((b, i) => [b, emaValues[i]]), "#ff9800", 2.4, 1),
            lineSet(mainWave, "#9db9f8", 1, 3),
            lineSet(subWave, "#9db9f8", 1, 3),
            lineSet(abcWave, "#9db9f8", 1, 3),
            lineSet(fibDiagonal, "#dcdee3", 1, 7, [6, 6]),
            lineSet(trendDown, "#668efb", 2, 2),
            lineSet(trendUp, "#668efb", 2, 2),
            lineSet([[xMin, lastClose], [xMax, lastClose]], "#ef5350", 1, 4, [1, 3])
        ].concat(fibSets)
    },
    options: Object.assign({}, baseOptions, {
        scales: { x: xScale(false), y: yScale(1.208038, 1.26327, priceTicks, 5) }
    }),
    plugins: [pricePlugin]
});

// RSI pane
new Chart(document.getElementById("rsiChart"), {
    type: "line",
    data: {
        datasets: [
            lineSet(rsiValues.map((v, i) => [i + 1, v]), "#7e57c2", 1, 1),
            lineSet([[xMin, 70], [xMax, 70]], "#787b86", 1, 2, [5, 4]),
            lineSet([[xMin, 50], [xMax, 50]], "#b2b5be", 1, 2, [5, 4]),
            lineSet([[xMin, 30], [xMax, 30]], "#787b86", 1, 2, [5, 4])
        ]
    },
    options: Object.assign({}, baseOptions, {
        scales: { x: xScale(false), y: yScale(19.24, 89.02, rsiTicks, 2) }
    }),
    plugins: [{
        id: "rsiBand",
        beforeDatasetsDraw(chart) {
            const { ctx, chartArea, scales: { y } } = chart;
            const top = y.getPixelForValue(70), bottom = y.getPixelForValue(30);
            ctx.save();
            ctx.fillStyle = "rgba(126,87,194,0.1)";
            ctx.fillRect(chartArea.left, top, chartArea.right - chartArea.left, bottom - top);
            ctx.restore();
        }
    }]
});

// MACD pane
const histColor = ctx => {
    const i = ctx.dataIndex, v = macdHist[i], prev = i ? macdHist[i - 1] : 0;
    if (v >= 0) return v >= prev ? "#26a69a" : "#b2dfdb";
    return v < prev ? "#ff5252" : "#ffcdd2";
};
new Chart(document.getElementById("macdChart"), {
    type: "bar",
    data: {
        datasets: [
            { label: "hist", data: macdHist.map((v, i) => ({ x: i + 1, y: v / 1e5 })), backgroundColor: histColor, barThickness: 4, inflateAmount: 0, order: 3 },
            lineSet(macdLine.map((v, i) => [i + 1, v / 1e5]), "#2962ff", 1, 2),
            lineSet(signalLine.map((v, i) => [i + 1, v / 1e5]), "#ff6d00", 1, 1)
        ]
    },
    options: Object.assign({}, baseOptions, {
        scales: { x: xScale(true), y: yScale(-0.006372, 0.006264, macdTicks, 5) }
    })
});
</script>
</body>
</html>
